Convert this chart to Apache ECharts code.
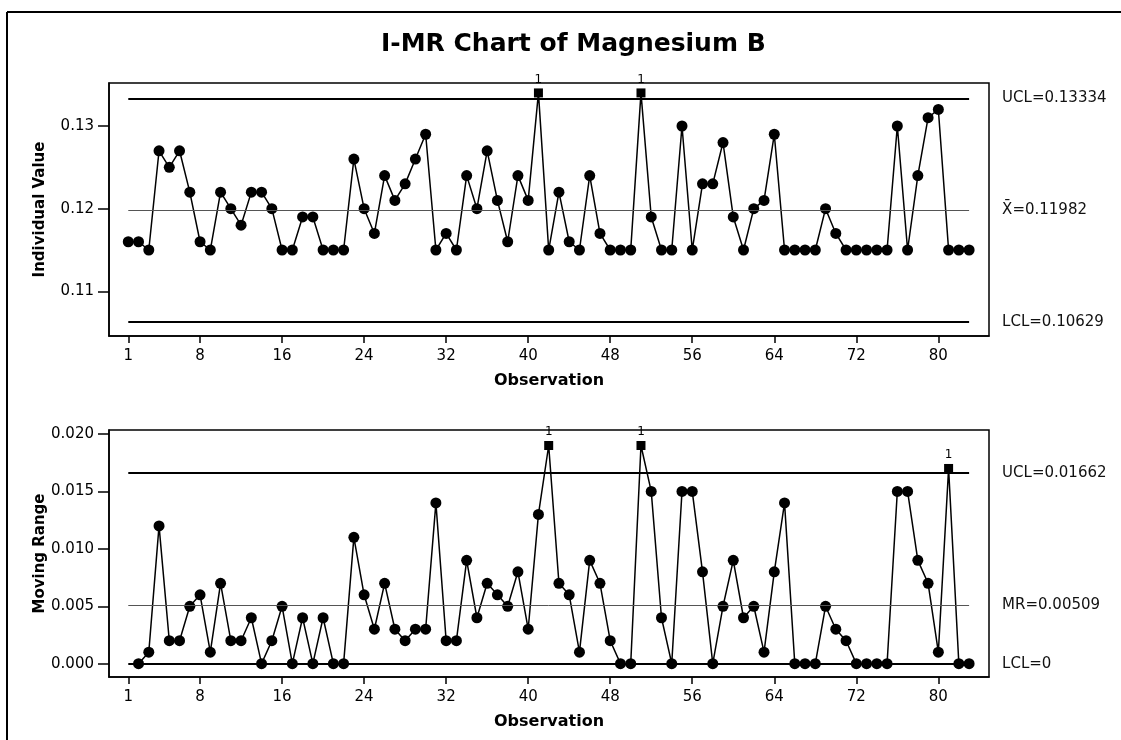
<!DOCTYPE html>
<html>
<head>
<meta charset="utf-8">
<title>I-MR Chart of Magnesium B</title>
<script src="https://cdn.jsdelivr.net/npm/echarts@6/dist/echarts.min.js"></script>
<style>
html,body{margin:0;padding:0;background:#fff;}
#chart{width:1121px;height:740px;}
</style>
</head>
<body>
<div id="chart"></div>
<script>
/*----------data----------*/
var individual=[0.116,0.116,0.115,0.127,0.125,0.127,0.122,0.116,0.115,0.122,
	0.120,0.118,0.122,0.122,0.120,0.115,0.115,0.119,0.119,0.115,
	0.115,0.115,0.126,0.120,0.117,0.124,0.121,0.123,0.126,0.129,
	0.115,0.117,0.115,0.124,0.120,0.127,0.121,0.116,0.124,0.121,
	0.134,0.115,0.122,0.116,0.115,0.124,0.117,0.115,0.115,0.115,
	0.134,0.119,0.115,0.115,0.130,0.115,0.123,0.123,0.128,0.119,
	0.115,0.120,0.121,0.129,0.115,0.115,0.115,0.115,0.120,0.117,
	0.115,0.115,0.115,0.115,0.115,0.130,0.115,0.124,0.131,0.132,
	0.115,0.115,0.115];
//moving range, starts at observation 2
var movingRange=[0.000,0.001,0.012,0.002,0.002,0.005,0.006,0.001,0.007,
	0.002,0.002,0.004,0.000,0.002,0.005,0.000,0.004,0.000,0.004,
	0.000,0.000,0.011,0.006,0.003,0.007,0.003,0.002,0.003,0.003,
	0.014,0.002,0.002,0.009,0.004,0.007,0.006,0.005,0.008,0.003,
	0.013,0.019,0.007,0.006,0.001,0.009,0.007,0.002,0.000,0.000,
	0.019,0.015,0.004,0.000,0.015,0.015,0.008,0.000,0.005,0.009,
	0.004,0.005,0.001,0.008,0.014,0.000,0.000,0.000,0.005,0.003,
	0.002,0.000,0.000,0.000,0.000,0.015,0.015,0.009,0.007,0.001,
	0.017,0.000,0.000];
var xTicks=[1,8,16,24,32,40,48,56,64,72,80];
var iTicks=[0.11,0.12,0.13];
var mrTicks=[0,0.005,0.010,0.015,0.020];
var iLimits={ucl:0.13334,center:0.11982,lcl:0.10629};
var mrLimits={ucl:0.01662,center:0.00509,lcl:0};
var iLabels=["UCL=0.13334","X\u0304=0.11982","LCL=0.10629"];
var mrLabels=["UCL=0.01662","MR=0.00509","LCL=0"];
var firstObs=1,lastObs=83;

/*----------ready----------*/
$chart();

/*----------function------*/
function $chart(){
	var chart=echarts.init(document.getElementById("chart"),null,{renderer:"canvas"});
	var font="DejaVu Sans";

	function points(values,start,ucl){	//build data items, flag points over ucl
		var out=[];
		for(var i=0;i<values.length;i++){
			var flag=values[i]>ucl;
			out.push({
				value:[start+i,values[i]],
				symbol:flag?"rect":"circle",
				symbolSize:flag?9:11,
				label:{show:flag}
			});
		}
		return out;
	}
	function limitLines(lim,labels){
		function seg(v,txt,w,c){
			return [
				{coord:[firstObs,v],lineStyle:{width:w,color:c,type:"solid"},
					label:{show:true,formatter:txt}},
				{coord:[lastObs,v]}
			];
		}
		return {
			silent:true,
			symbol:["none","none"],
			label:{position:"end",distance:33,color:"#111",fontFamily:font,fontSize:15},
			data:[
				seg(lim.ucl,labels[0],2,"#000"),
				seg(lim.center,labels[1],1,"#555"),
				seg(lim.lcl,labels[2],2,"#000")
			]
		};
	}
	function xAxis(idx){
		return {
			type:"value",gridIndex:idx,min:-0.88,max:84.94,
			name:"Observation",nameLocation:"middle",nameGap:37,nameMoveOverlap:false,
			nameTextStyle:{fontFamily:font,fontWeight:"bold",fontSize:16,color:"#000"},
			axisLine:{show:true,onZero:false,lineStyle:{color:"#000",width:1.5}},
			axisTick:{show:true,length:7,customValues:xTicks,lineStyle:{color:"#000",width:1.5}},
			axisLabel:{customValues:xTicks,margin:13,fontFamily:font,fontSize:15,color:"#000"},
			splitLine:{show:false}
		};
	}
	function yAxis(idx,name,min,max,ticks,digits){
		return {
			type:"value",gridIndex:idx,min:min,max:max,
			name:name,nameLocation:"middle",nameGap:61,nameMoveOverlap:false,
			nameTextStyle:{fontFamily:font,fontWeight:"bold",fontSize:15,color:"#000"},
			axisLine:{show:true,onZero:false,lineStyle:{color:"#000",width:1.5}},
			axisTick:{show:true,length:11,customValues:ticks,lineStyle:{color:"#000",width:1.5}},
			axisLabel:{customValues:ticks,margin:15,fontFamily:font,fontSize:15,color:"#000",
				formatter:function(v){return v.toFixed(digits);}},
			splitLine:{show:false}
		};
	}
	var lineSeries={
		type:"line",
		clip:false,
		lineStyle:{color:"#000",width:1.5},
		itemStyle:{color:"#000"},
		label:{show:false,position:"top",distance:3,formatter:"1",fontFamily:font,fontSize:12,color:"#000"},
		emphasis:{disabled:true},
		animation:false
	};
	var option={
		animation:false,
		backgroundColor:"#fff",
		title:{
			text:"I-MR Chart of Magnesium B",
			left:376,top:27,
			textStyle:{fontFamily:font,fontWeight:"bold",fontSize:25,color:"#000"}
		},
		grid:[
			{left:109,right:132,top:83,height:253,show:true,borderColor:"#000",borderWidth:1.5,backgroundColor:"#fff"},
			{left:109,right:132,top:430,height:247,show:true,borderColor:"#000",borderWidth:1.5,backgroundColor:"#fff"}
		],
		xAxis:[xAxis(0),xAxis(1)],
		yAxis:[
			yAxis(0,"Individual Value",0.1046,0.1352,iTicks,2),
			yAxis(1,"Moving Range",-0.00116,0.02035,mrTicks,3)
		],
		series:[
			Object.assign({},lineSeries,{
				name:"Individual",xAxisIndex:0,yAxisIndex:0,
				data:points(individual,1,iLimits.ucl),
				markLine:limitLines(iLimits,iLabels)
			}),
			Object.assign({},lineSeries,{
				name:"Moving Range",xAxisIndex:1,yAxisIndex:1,
				data:points(movingRange,2,mrLimits.ucl),
				markLine:limitLines(mrLimits,mrLabels)
			})
		],
		graphic:[	//page frame of the scanned figure
			{type:"line",shape:{x1:7,y1:12,x2:7,y2:740},style:{stroke:"#000",lineWidth:2}},
			{type:"line",shape:{x1:7,y1:12,x2:1121,y2:12},style:{stroke:"#000",lineWidth:2}}
		]
	};
	chart.setOption(option);
	return true;
}
</script>
</body>
</html>
